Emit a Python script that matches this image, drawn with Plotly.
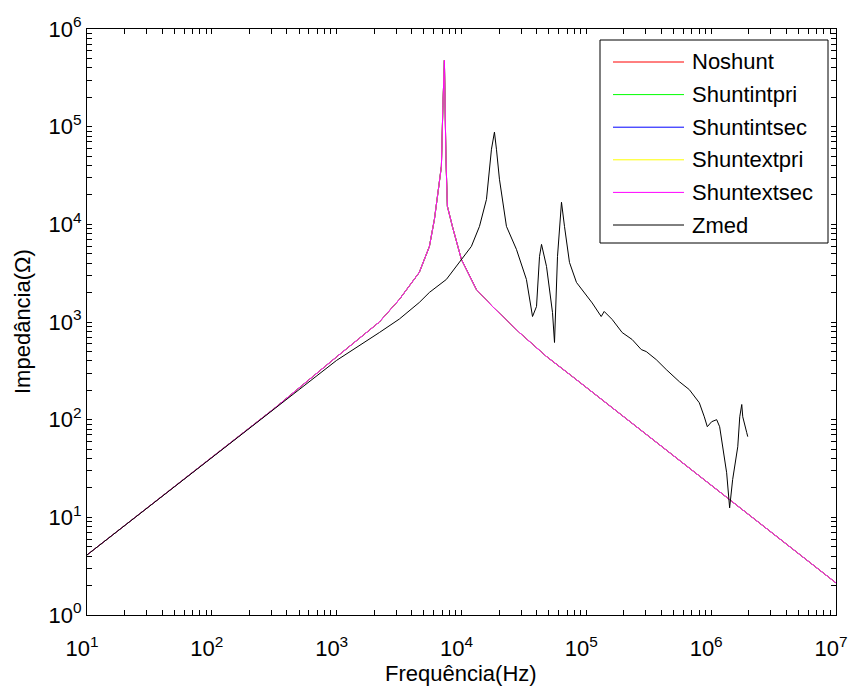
import plotly.graph_objects as go

# ---------------- data ----------------
# The five shunt configurations coincide on the picture (magenta drawn on top)
shunt_freq = [10, 31.6, 100, 316, 1000, 2198, 3177, 4592, 5534, 6067, 6531,
              6902, 7096, 7295, 7499, 7709, 8453, 9977, 13152, 17701, 29107,
              47973, 77446, 316228, 1000000, 3162278, 10000000]
shunt_z = [4.12, 13.0, 41.2, 130, 440, 1000, 1702, 3221, 5943, 11250, 22860,
           39350, 162000, 478600, 49800, 15310, 9528, 4375, 2153, 1442, 780,
           443, 276, 67.6, 21.4, 6.76, 2.13]

zmed_freq = [10, 31.6, 100, 316, 1000, 2198, 3177, 4592, 5534, 7568, 9616,
             11995, 13932, 15849, 17378, 18365, 19055, 20137, 22909, 27542,
             33113, 37068, 39902, 42170, 43752, 47973, 53580, 55590, 58749,
             63241, 66834, 73282, 83368, 93325, 111430, 131522, 139000, 161065,
             193642, 232809, 275423, 301995, 363078, 436516, 555904, 668344,
             803526, 881049, 931108, 1009253, 1106624, 1169499, 1235947,
             1330454, 1406048, 1485936, 1633052, 1694338, 1757924, 1790570,
             1927525, 1963360]
zmed_z = [4.12, 13.0, 41.0, 127, 405, 780, 1072, 1585, 2009, 2729, 4074,
          5943, 9528, 18030, 58750, 87900, 58750, 28970, 9528, 5546,
          2729, 1138, 1442, 4699, 6237, 3707, 1250, 617, 4699,
          16830, 9528, 4074, 2541, 2089, 1567, 1138, 1282, 1062,
          780, 662, 522, 498, 412, 326, 245, 203,
          149, 107, 84.7, 95.3, 100, 84.7, 52.8,
          28.6, 12.5, 24.3, 52.8, 107, 143, 107,
          73.6, 67.0]

series_names = ["Noshunt", "Shuntintpri", "Shuntintsec", "Shuntextpri",
                "Shuntextsec", "Zmed"]
series_colors = ["#ff0000", "#00ff00", "#0000ff", "#ffff00", "#ff00ff", "#000000"]

x_tick_vals = [1e1, 1e2, 1e3, 1e4, 1e5, 1e6, 1e7]
x_tick_labels = ["10<sup>1</sup>", "10<sup>2</sup>", "10<sup>3</sup>", "10<sup>4</sup>",
                 "10<sup>5</sup>", "10<sup>6</sup>", "10<sup>7</sup>"]
y_tick_vals = [1e0, 1e1, 1e2, 1e3, 1e4, 1e5, 1e6]
y_tick_labels = ["10<sup>0</sup>", "10<sup>1</sup>", "10<sup>2</sup>", "10<sup>3</sup>",
                 "10<sup>4</sup>", "10<sup>5</sup>", "10<sup>6</sup>"]
x_title = "Frequência(Hz)"
y_title = "Impedância(Ω)"

# ---------------- figure ----------------
FONT = "Liberation Sans, Arial, sans-serif"
W, H = 850, 686
L, R, T, B = 87, 14, 29, 71

fig = go.Figure()
for i, name in enumerate(series_names):
    if name == "Zmed":
        fx, fy = zmed_freq, zmed_z
    else:
        fx, fy = shunt_freq, shunt_z
    fig.add_trace(go.Scatter(x=fx, y=fy, mode="lines", name=name,
                             line=dict(color=series_colors[i], width=1),
                             showlegend=False))


def minor_vals(lo, hi):
    out = []
    for e in range(lo, hi):
        for m in range(2, 10):
            out.append(m * 10 ** e)
    return out


axis_common = dict(type="log", showline=True, linecolor="black", linewidth=1,
                   mirror="allticks", ticks="inside", ticklen=5, tickwidth=1,
                   tickcolor="black", showgrid=False, zeroline=False,
                   automargin=False, ticklabeloverflow="allow",
                   tickfont=dict(family=FONT, size=22, color="black"),
                   tickmode="array")

fig.update_xaxes(**axis_common, range=[0.99999, 7.00001], tickvals=x_tick_vals,
                 ticktext=x_tick_labels, ticklabelstandoff=14, ticklabelshift=-5,
                 minor=dict(tickmode="array", tickvals=minor_vals(1, 7),
                            ticks="inside", ticklen=5, tickcolor="black",
                            showgrid=False))
fig.update_yaxes(**axis_common, range=[-0.00001, 6.00001], tickvals=y_tick_vals,
                 ticktext=y_tick_labels,
                 minor=dict(tickmode="array", tickvals=minor_vals(0, 6),
                            ticks="inside", ticklen=5, tickcolor="black",
                            showgrid=False))

# ---------------- legend box and axis titles (pixel-like paper coords) ----------------
pw, ph = W - L - R, H - T - B


def px(x):
    return (x - L) / pw


def py(y):
    return (H - B - y) / ph


shapes = [dict(type="rect", xref="paper", yref="paper",
               x0=px(600), x1=px(828), y0=py(243), y1=py(40),
               line=dict(color="black", width=1), fillcolor="white", layer="above")]
annotations = []
for i, name in enumerate(series_names):
    yc = 62 + i * 32.6
    shapes.append(dict(type="line", xref="paper", yref="paper",
                       x0=px(613), x1=px(684), y0=py(yc), y1=py(yc),
                       line=dict(color=series_colors[i], width=1), layer="above"))
    annotations.append(dict(text=name, xref="paper", yref="paper",
                            x=px(690), y=py(yc), xanchor="left", yanchor="middle",
                            showarrow=False,
                            font=dict(family=FONT, size=22, color="black")))

annotations.append(dict(text=x_title, xref="paper", yref="paper",
                        x=px(461), y=py(673), xanchor="center", yanchor="middle",
                        showarrow=False,
                        font=dict(family=FONT, size=22, color="black")))
annotations.append(dict(text=y_title, xref="paper", yref="paper",
                        x=px(22), y=py(322), xanchor="center", yanchor="middle",
                        textangle=-90, showarrow=False,
                        font=dict(family=FONT, size=22, color="black")))

fig.update_layout(width=W, height=H,
                  margin=dict(l=L, r=R, t=T, b=B, pad=0),
                  paper_bgcolor="white", plot_bgcolor="white",
                  shapes=shapes, annotations=annotations,
                  showlegend=False)

fig.write_html("out.html", config={"displayModeBar": False},
               post_script="document.body.style.margin='0px';"
                           "document.body.style.overflow='hidden';")
